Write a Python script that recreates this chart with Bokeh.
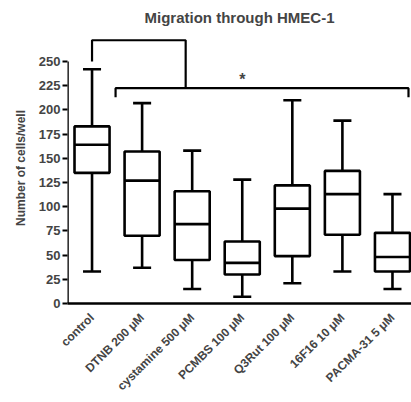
import math
from bokeh.plotting import figure
from bokeh.models import Range1d, FixedTicker, Label
from bokeh.embed import file_html
from bokeh.resources import INLINE

categories = ["control", "DTNB 200 \u03bcM", "cystamine 500 \u03bcM", "PCMBS 100 \u03bcM",
              "Q3Rut 100 \u03bcM", "16F16 10 \u03bcM", "PACMA-31 5 \u03bcM"]
whisker_low = [33, 37, 15, 7, 21, 33, 15]
q1 = [135, 70, 45, 30, 49, 71, 33]
median = [164, 127, 82, 42, 98, 113, 48]
q3 = [183, 157, 116, 64, 122, 137, 73]
whisker_high = [242, 207, 158, 128, 210, 189, 113]
y_ticks = [0, 25, 50, 75, 100, 125, 150, 175, 200, 225, 250]

# significance brackets (x in category index, y in cells/well)
bracket1_x = [0, 0, 1.87, 1.87]
bracket1_y = [250, 272, 272, 222.5]
bracket2_x = [0.47, 0.47, 6.32, 6.32]
bracket2_y = [213, 222.5, 222.5, 213]
star_x = 3
star_y = 231

FONT = "Liberation Sans"

p = figure(width=411, height=402, output_backend="svg", toolbar_location=None,
           x_range=Range1d(-0.49, 6.38), y_range=Range1d(0, 280),
           min_border_left=67, min_border_right=0, min_border_top=31, min_border_bottom=99)
p.outline_line_color = None
p.xgrid.visible = False
p.ygrid.visible = False

x = list(range(len(categories)))
lw = 2.6
# whiskers
p.segment(x0=x, y0=whisker_low, x1=x, y1=q1, line_color="black", line_width=lw)
p.segment(x0=x, y0=q3, x1=x, y1=whisker_high, line_color="black", line_width=lw)
cap = 0.18
p.segment(x0=[i - cap for i in x], y0=whisker_low, x1=[i + cap for i in x], y1=whisker_low,
          line_color="black", line_width=lw)
p.segment(x0=[i - cap for i in x], y0=whisker_high, x1=[i + cap for i in x], y1=whisker_high,
          line_color="black", line_width=lw)
# boxes
p.vbar(x=x, width=0.7, bottom=q1, top=q3, fill_color="white", line_color="black", line_width=lw)
p.segment(x0=[i - 0.35 for i in x], y0=median, x1=[i + 0.35 for i in x], y1=median,
          line_color="black", line_width=lw)

# brackets
p.line(bracket1_x, bracket1_y, line_color="black", line_width=2.2)
p.line(bracket2_x, bracket2_y, line_color="black", line_width=2.2)
p.add_layout(Label(x=star_x, y=star_y, text="*", text_font=FONT, text_font_style="bold",
                   text_font_size="16px", text_align="center", text_baseline="middle"))

# y axis line only to 250
p.segment(x0=[-0.49], y0=[0], x1=[-0.49], y1=[250], line_color="black", line_width=2.6)

p.yaxis.ticker = FixedTicker(ticks=y_ticks)
p.yaxis.axis_line_color = None
p.yaxis.major_tick_line_width = 2
p.yaxis.major_tick_out = 5
p.yaxis.major_tick_in = 0
p.yaxis.minor_tick_line_color = None
p.yaxis.major_label_text_font = FONT
p.yaxis.major_label_text_font_style = "bold"
p.yaxis.major_label_text_font_size = "13px"
p.yaxis.major_label_standoff = 2
p.yaxis.axis_label = "Number of cells/well"
p.yaxis.axis_label_text_font = FONT
p.yaxis.axis_label_text_font_style = "bold"
p.yaxis.axis_label_text_font_size = "12px"
p.yaxis.axis_label_standoff = 8

p.xaxis.ticker = FixedTicker(ticks=x)
p.xaxis.major_label_overrides = {i: c for i, c in enumerate(categories)}
p.xaxis.major_label_orientation = math.pi / 4
p.xaxis.axis_line_width = 2.6
p.xaxis.major_tick_line_color = None
p.xaxis.minor_tick_line_color = None
p.xaxis.major_label_text_font = FONT
p.xaxis.major_label_text_font_style = "bold"
p.xaxis.major_label_text_font_size = "12px"
p.xaxis.major_label_standoff = 6

p.title.text = "Migration through HMEC-1"
p.title.text_font = FONT
p.title.text_font_style = "bold"
p.title.text_font_size = "15px"
p.title.align = "center"
p.title.offset = -14
p.title.standoff = 13

open("out.html", "w").write(file_html(p, INLINE))
